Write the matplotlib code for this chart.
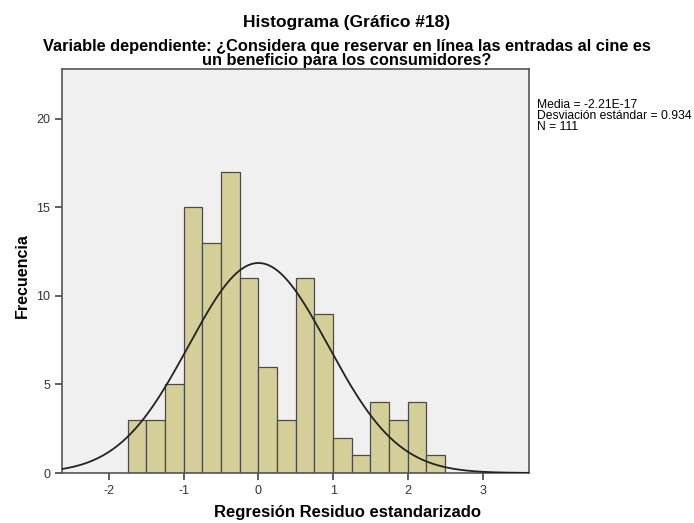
import numpy as np
import matplotlib
matplotlib.use("Agg")
import matplotlib.pyplot as plt

plt.rcParams['font.family'] = ['Liberation Sans', 'DejaVu Sans']

bin_edges = [-1.75 + 0.25 * i for i in range(18)]
counts = [3, 3, 5, 15, 13, 17, 11, 6, 3, 11, 9, 2, 1, 4, 3, 4, 1]
mean = -2.21e-17
sd = 0.934
n = 111
xticks = [-2, -1, 0, 1, 2, 3]
yticks = [0, 5, 10, 15, 20]

fig = plt.figure(figsize=(6.94, 5.23), dpi=100)
ax = fig.add_axes([0.0893, 0.0956, 0.6727, 0.7724])
ax.set_facecolor('#f0f0f0')

lefts = bin_edges[:-1]
widths = [bin_edges[i + 1] - bin_edges[i] for i in range(len(counts))]
ax.bar(lefts, counts, width=widths, align='edge', color='#d4cf98',
       edgecolor='#4a4a4a', linewidth=0.9, zorder=2)

xs = np.linspace(-2.63, 3.62, 400)
bw = 0.25
ys = n * bw / (sd * np.sqrt(2 * np.pi)) * np.exp(-0.5 * ((xs - mean) / sd) ** 2)
ax.plot(xs, ys, color='#222222', linewidth=1.3, zorder=3)

ax.set_xlim(-2.63, 3.62)
ax.set_ylim(0, 22.8)
ax.set_xticks(xticks)
ax.set_xticklabels([str(t) for t in xticks])
ax.set_yticks(yticks)
ax.set_yticklabels([str(t) for t in yticks])
ax.tick_params(axis='both', direction='out', length=5, width=1.2,
               colors='#444444', labelsize=9, labelcolor='#333333')
for s in ax.spines.values():
    s.set_color('#555555')
    s.set_linewidth(1.2)

fig.text(0.5, (523 - 513) / 523, 'Regresión Residuo estandarizado', ha='center', va='center',
         fontsize=12, fontweight='bold')
fig.text(22 / 694, (523 - 276) / 523, 'Frecuencia', ha='center', va='center',
         rotation=90, fontsize=11.5, fontweight='bold')

fig.text(0.5, (523 - 26.5) / 523, 'Histograma (Gráfico #18)', ha='center', va='baseline',
         fontsize=12.5, fontweight='bold')
fig.text(0.5, (523 - 50.5) / 523, 'Variable dependiente: ¿Considera que reservar en línea las entradas al cine es',
         ha='center', va='baseline', fontsize=11.8, fontweight='bold')
fig.text(0.5, (523 - 65) / 523, 'un beneficio para los consumidores?',
         ha='center', va='baseline', fontsize=11.8, fontweight='bold')

fig.text(537 / 694, (523 - 116) / 523, 'Media = -2.21E-17\nDesviación estándar = 0.934\nN = 111',
         ha='left', va='center', fontsize=8.7, linespacing=0.88)

fig.savefig('out.png', dpi=100)
